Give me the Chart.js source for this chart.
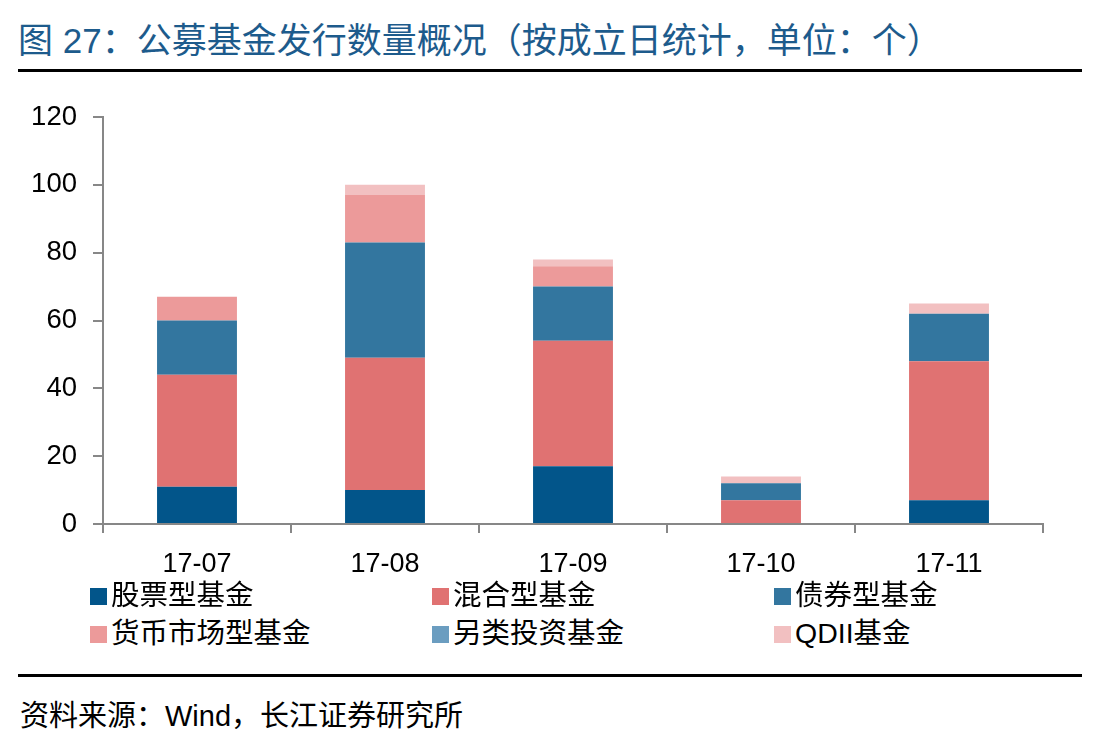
<!DOCTYPE html>
<html>
<head>
<meta charset="utf-8">
<script src="https://cdn.jsdelivr.net/npm/chart.js@4"></script>
<style>
  html, body { margin:0; padding:0; background:#fff; }
  body { width:1095px; height:737px; position:relative; overflow:hidden; font-family:"Liberation Sans", Arial, "Noto Sans CJK SC", sans-serif; }
  #title { position:absolute; left:18px; top:12px; font-size:35px; color:#1D5B8C; white-space:nowrap; font-family:"Liberation Sans", "Noto Sans CJK SC", sans-serif; }
  .rule { position:absolute; left:18px; width:1064px; height:3px; background:#000; }
  #chartBox { position:absolute; left:0; top:80px; width:1095px; height:500px; }
  #legend { position:absolute; left:0; top:0; width:1095px; height:0; }
  .li { position:absolute; font-size:28.5px; color:#000; white-space:nowrap; font-family:"Liberation Sans", "Noto Sans CJK SC", sans-serif; line-height:30px; }
  .li span.sw { display:inline-block; width:17px; height:17px; margin-right:4px; vertical-align:0px; }
  #source { position:absolute; left:20px; top:692px; font-size:29px; color:#000; white-space:nowrap; font-family:"Liberation Sans", "Noto Sans CJK SC", sans-serif; }
</style>
</head>
<body>
<div id="title">图 27：公募基金发行数量概况（按成立日统计，单位：个）</div>
<div class="rule" style="top:69px"></div>
<div id="chartBox"><canvas id="c" width="1095" height="500"></canvas></div>
<div id="legend"></div>
<div class="rule" style="top:674px"></div>
<div id="source">资料来源：Wind，长江证券研究所</div>
<script>
// ---- data ----
const categories = ['17-07', '17-08', '17-09', '17-10', '17-11'];
const seriesNames = ['股票型基金', '混合型基金', '债券型基金', '货币市场型基金', '另类投资基金', 'QDII基金'];
const stockFund   = [11, 10, 17, 0, 7];
const mixedFund   = [33, 39, 37, 7, 41];
const bondFund    = [16, 34, 16, 5, 14];
const moneyFund   = [7, 14, 6, 0, 0];
const altFund     = [0, 0, 0, 0, 0];
const qdiiFund    = [0, 3, 2, 2, 3];
const yTicks      = [0, 20, 40, 60, 80, 100, 120];

const seriesValues = [stockFund, mixedFund, bondFund, moneyFund, altFund, qdiiFund];
const seriesColors = ['#02558A', '#E07272', '#33769F', '#EC9A9A', '#6B9DC0', '#F2C0C1'];

const datasets = seriesNames.map((n, i) => ({
  label: n,
  data: seriesValues[i],
  backgroundColor: seriesColors[i],
  borderWidth: 0,
  categoryPercentage: 1.0,
  barPercentage: 0.425
}));

const axisColor = '#878787';
new Chart(document.getElementById('c'), {
  type: 'bar',
  data: { labels: categories, datasets },
  options: {
    responsive: false,
    animation: false,
    layout: { padding: { top: 37, right: 52, left: 0, bottom: 0 } },
    plugins: { legend: { display: false }, tooltip: { enabled: false } },
    scales: {
      x: {
        stacked: true,
        grid: { display: true, drawOnChartArea: false, drawTicks: true, tickLength: 9, color: axisColor, lineWidth: 2, offset: true },
        border: { display: true, color: axisColor, width: 2 },
        ticks: { color: '#000', font: { family: '"Liberation Sans", Arial', size: 27 }, padding: 15, maxRotation: 0 },
        afterFit: (s) => { s.height = 56; }
      },
      y: {
        stacked: true,
        min: 0, max: 120,
        afterBuildTicks: (s) => { s.ticks = yTicks.map(v => ({ value: v })); },
        grid: { display: true, drawOnChartArea: false, drawTicks: true, tickLength: 10, color: axisColor, lineWidth: 2 },
        border: { display: true, color: axisColor, width: 2 },
        ticks: { color: '#000', font: { family: '"Liberation Sans", Arial', size: 27.5 }, padding: 16 },
        afterFit: (s) => { s.width = 103; }
      }
    }
  }
});

// ---- legend (HTML, built from series names/colours) ----
const legendCols = [90, 432, 774];
const legendRows = [580, 618];
const lg = document.getElementById('legend');
seriesNames.forEach((n, i) => {
  const d = document.createElement('div');
  d.className = 'li';
  d.style.left = legendCols[i % 3] + 'px';
  d.style.top = legendRows[Math.floor(i / 3)] + 'px';
  d.innerHTML = '<span class="sw" style="background:' + seriesColors[i] + '"></span>' + n;
  lg.appendChild(d);
});
</script>
</body>
</html>
